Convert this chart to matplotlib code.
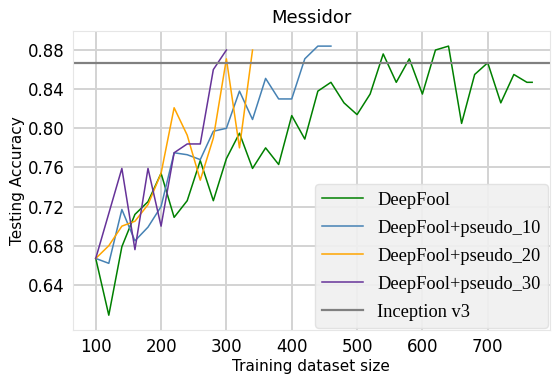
import matplotlib.pyplot as plt

# training set sizes
x_df = [100, 120, 140, 160, 180, 200, 220, 240, 260, 280, 300, 320, 340, 360, 380,
        400, 420, 440, 460, 480, 500, 520, 540, 560, 580, 600, 620, 640, 660, 680,
        700, 720, 740, 760, 768]
deepfool = [0.667, 0.609, 0.679, 0.712, 0.725, 0.754, 0.709, 0.726, 0.767, 0.726,
            0.769, 0.795, 0.759, 0.780, 0.763, 0.813, 0.789, 0.838, 0.847, 0.826,
            0.814, 0.835, 0.876, 0.847, 0.871, 0.835, 0.880, 0.884, 0.805, 0.855,
            0.867, 0.826, 0.855, 0.847, 0.847]

x_p10 = [100, 120, 140, 160, 180, 200, 220, 240, 260, 280, 300, 320, 340, 360, 380,
         400, 420, 440, 460]
pseudo_10 = [0.667, 0.662, 0.717, 0.685, 0.699, 0.720, 0.775, 0.773, 0.768, 0.797,
             0.800, 0.838, 0.809, 0.851, 0.830, 0.830, 0.871, 0.884, 0.884]

x_p20 = [100, 120, 140, 160, 180, 200, 220, 240, 260, 280, 300, 320, 340]
pseudo_20 = [0.667, 0.680, 0.700, 0.705, 0.722, 0.754, 0.821, 0.793, 0.747, 0.790,
             0.871, 0.780, 0.880]

x_p30 = [100, 120, 140, 160, 180, 200, 220, 240, 260, 280, 300]
pseudo_30 = [0.667, 0.713, 0.759, 0.676, 0.759, 0.700, 0.775, 0.784, 0.784, 0.860, 0.880]

inception = 0.867

fig = plt.figure(figsize=(5.52, 3.74), dpi=100)
ax = fig.add_axes([0.132, 0.118, 0.864, 0.799])

ax.plot(x_df, deepfool, color='green', lw=1.1, label='DeepFool')
ax.plot(x_p10, pseudo_10, color='steelblue', lw=1.1, label='DeepFool+pseudo_10')
ax.plot(x_p20, pseudo_20, color='orange', lw=1.1, label='DeepFool+pseudo_20')
ax.plot(x_p30, pseudo_30, color='rebeccapurple', lw=1.1, label='DeepFool+pseudo_30')
ax.axhline(inception, color='grey', lw=1.6, label='Inception v3')

ax.set_xlim(65, 795)
ax.set_ylim(0.594, 0.8994)
ax.set_xticks([100, 200, 300, 400, 500, 600, 700])
ax.set_yticks([0.64, 0.68, 0.72, 0.76, 0.80, 0.84, 0.88])
ax.tick_params(labelsize=12, length=0, pad=6)
ax.grid(color='#d3d3d3', lw=1.4)
ax.set_axisbelow(True)
for s in ax.spines.values():
    s.set_color('#e6e6e6')

ax.set_title('Messidor', fontsize=13)
ax.set_xlabel('Training dataset size', fontsize=11, labelpad=2)
ax.set_ylabel('Testing Accuracy', fontsize=11, labelpad=2)

leg = ax.legend(loc='lower right', prop={'family': 'Liberation Serif', 'size': 13.2},
                facecolor='#f0f0f0', framealpha=0.9, edgecolor='#e0e0e0',
                handlelength=2.2, borderaxespad=0.1, labelspacing=0.6)

fig.savefig('out.png')
